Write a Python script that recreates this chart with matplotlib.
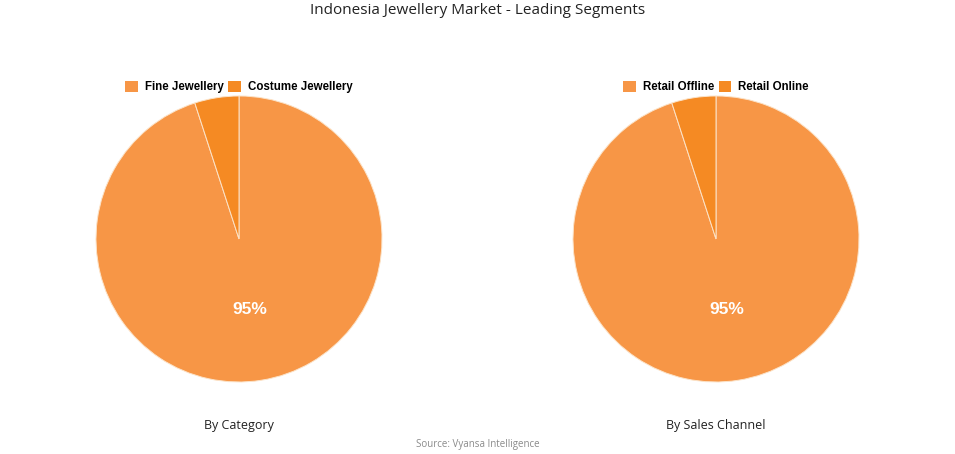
import matplotlib.pyplot as plt
from matplotlib.patches import Patch

# data
titulo = "Indonesia Jewellery Market - Leading Segments"
fuente = "Source: Vyansa Intelligence"

cat_labels = ["Fine Jewellery", "Costume Jewellery"]
cat_values = [95, 5]
canal_labels = ["Retail Offline", "Retail Online"]
canal_values = [95, 5]
subtitulos = ["By Category", "By Sales Channel"]

colores = ["#F79646", "#F58A23"]

fig = plt.figure(figsize=(9.55, 4.54), dpi=100, facecolor="white")

fig.text(0.5, 1 - 10 / 454, titulo, ha="center", va="center",
         fontsize=11, family="Open Sans", color="#222222")


def dibujar_pie(cx, labels, values, subt):
    w, h = 286 / 955, 286 / 454
    ax = fig.add_axes([cx - w / 2, 0.4736 - h / 2, w, h])
    wedges, _, autotexts = ax.pie(
        values, colors=colores, startangle=90, counterclock=False,
        autopct=lambda p: f"{p:.0f}%" if p > 50 else "",
        pctdistance=0.5,
        wedgeprops=dict(edgecolor="#FCE3C8", linewidth=0.7),
        textprops=dict(color="white", fontsize=12.5, fontweight="bold",
                       family="Liberation Sans"))
    ax.set_xlim(-1, 1)
    ax.set_ylim(-1, 1)
    ax.set_aspect("equal")
    ax.axis("off")

    handles = [Patch(facecolor=c, edgecolor="none") for c in colores]
    fig.legend(handles, labels, loc="center", bbox_to_anchor=(cx, 1 - 87 / 454),
               ncol=2, frameon=False, handlelength=1.1, handleheight=1.1,
               handletextpad=0.6, columnspacing=0.4,
               prop=dict(family="Liberation Sans", weight="bold", size=8.3))

    fig.text(cx, 1 - 425 / 454, subt, ha="center", va="center",
             fontsize=9, family="Open Sans", color="#222222")


dibujar_pie(239 / 955, cat_labels, cat_values, subtitulos[0])
dibujar_pie(716 / 955, canal_labels, canal_values, subtitulos[1])

fig.text(0.5, 1 - 444 / 454, fuente, ha="center", va="center",
         fontsize=7, family="Open Sans", color="#8a8a8a")

plt.savefig("out.png", dpi=100, facecolor="white")
